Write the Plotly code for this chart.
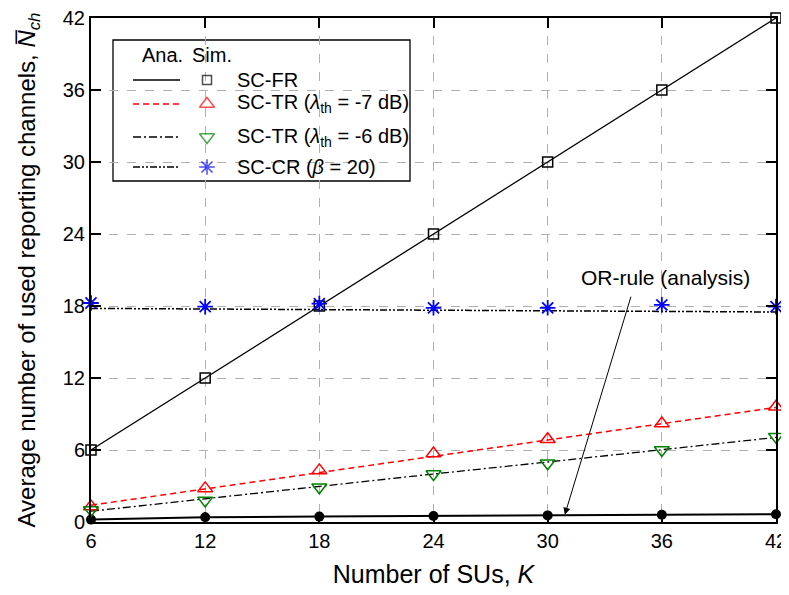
import plotly.graph_objects as go

K = [6, 12, 18, 24, 30, 36, 42]
fr_ana = [6, 12, 18, 24, 30, 36, 42]
fr_sim = [6, 12, 18, 24, 30, 36, 42]
tr7_ana = [1.4, 2.75, 4.15, 5.5, 6.85, 8.2, 9.55]
tr7_sim = [1.3, 2.8, 4.3, 5.7, 6.9, 8.2, 9.6]
tr6_ana = [0.9, 1.95, 2.95, 4.0, 5.0, 6.0, 7.05]
tr6_sim = [1.0, 1.8, 2.9, 4.0, 4.9, 6.0, 7.1]
cr_ana = [17.8, 17.75, 17.7, 17.65, 17.6, 17.55, 17.5]
cr_sim = [18.25, 17.95, 18.2, 17.85, 17.85, 18.1, 17.95]
or_ana = [0.2, 0.4, 0.45, 0.5, 0.55, 0.6, 0.65]

xticks = [6, 12, 18, 24, 30, 36, 42]
yticks = [0, 6, 12, 18, 24, 30, 36, 42]

legend_labels = ["SC-FR",
                 "SC-TR (<i>λ</i><sub>th</sub> = -7 dB)",
                 "SC-TR (<i>λ</i><sub>th</sub> = -6 dB)",
                 "SC-CR (<i>β</i> = 20)"]

FONT = "Liberation Sans, Arial, sans-serif"
fig = go.Figure()

DASH_TR7 = "6px,4px"
DASH_TR6 = "8px,3px,2px,3px"
DASH_CR = "7px,2px,2px,2px,2px,2px"

# analytical lines
fig.add_trace(go.Scatter(x=K, y=fr_ana, mode="lines", line=dict(color="black", width=1.3), showlegend=False))
fig.add_trace(go.Scatter(x=K, y=tr7_ana, mode="lines", line=dict(color="red", width=1.5, dash=DASH_TR7), showlegend=False))
fig.add_trace(go.Scatter(x=K, y=tr6_ana, mode="lines", line=dict(color="black", width=1.3, dash=DASH_TR6), showlegend=False))
fig.add_trace(go.Scatter(x=K, y=cr_ana, mode="lines", line=dict(color="black", width=1.5, dash=DASH_CR), showlegend=False))
fig.add_trace(go.Scatter(x=K, y=or_ana, mode="lines+markers", line=dict(color="black", width=2),
                         marker=dict(symbol="circle", size=10, color="black"), showlegend=False, cliponaxis=False))

# simulation markers
fig.add_trace(go.Scatter(x=K, y=fr_sim, mode="markers", cliponaxis=False,
                         marker=dict(symbol="square-open", size=10, color="black", line=dict(width=1.5)), showlegend=False))
fig.add_trace(go.Scatter(x=K, y=tr7_sim, mode="markers", cliponaxis=False,
                         marker=dict(symbol="triangle-up-open", size=13, color="red", line=dict(width=1.5)), showlegend=False))
fig.add_trace(go.Scatter(x=K, y=tr6_sim, mode="markers", cliponaxis=False,
                         marker=dict(symbol="triangle-down-open", size=13, color="green", line=dict(width=1.5)), showlegend=False))
fig.add_trace(go.Scatter(x=K, y=cr_sim, mode="markers", cliponaxis=False,
                         marker=dict(symbol="asterisk-open", size=13, color="blue", line=dict(width=1.8, color="blue")), showlegend=False))

# custom legend (positions in paper fractions of the plot area)
def px_x(p):
    return (p - 91) / 685
def px_y(p):
    return (522 - p) / 504

rows = [80, 104, 137, 167]
dashes = ["solid", DASH_TR7, DASH_TR6, DASH_CR]
lcolors = ["black", "red", "black", "black"]
fig.add_shape(type="rect", xref="paper", yref="paper", x0=px_x(113), x1=px_x(410), y0=px_y(181), y1=px_y(40),
              line=dict(color="black", width=1.3), fillcolor="white", layer="between")
for r, d, c in zip(rows, dashes, lcolors):
    fig.add_shape(type="line", xref="paper", yref="paper", x0=px_x(133), x1=px_x(180), y0=px_y(r), y1=px_y(r),
                  line=dict(color=c, width=1.5, dash=d), layer="above")
for r, lab in zip(rows, legend_labels):
    fig.add_annotation(xref="paper", yref="paper", x=px_x(235), y=px_y(r), text=lab, showarrow=False,
                       xanchor="left", yanchor="middle", font=dict(family=FONT, size=20, color="black"))
fig.add_annotation(xref="paper", yref="paper", x=px_x(162), y=px_y(55), text="Ana.", showarrow=False,
                   xanchor="center", yanchor="middle", font=dict(family=FONT, size=20, color="black"))
fig.add_annotation(xref="paper", yref="paper", x=px_x(212), y=px_y(55), text="Sim.", showarrow=False,
                   xanchor="center", yanchor="middle", font=dict(family=FONT, size=20, color="black"))

leg_syms = ["square-open", "triangle-up-open", "triangle-down-open", "asterisk-open"]
leg_cols = ["black", "red", "green", "blue"]
leg_sizes = [9, 13, 13, 13]
fig.add_trace(go.Scatter(x=[px_x(207)] * 4, y=[px_y(r) for r in rows], mode="markers",
                         xaxis="x2", yaxis="y2", showlegend=False,
                         marker=dict(symbol=leg_syms, color=leg_cols, size=leg_sizes,
                                     line=dict(width=1.5, color=leg_cols))))

# OR-rule annotation
fig.add_annotation(x=36.2, y=20.4, text="OR-rule (analysis)", showarrow=False,
                   xanchor="center", yanchor="middle",
                   font=dict(family=FONT, size=21, color="black"))
fig.add_annotation(x=30.9, y=0.6, ax=34.4, ay=18.9, xref="x", yref="y", axref="x", ayref="y",
                   text="", showarrow=True, arrowhead=2, arrowsize=1.4, arrowwidth=1, arrowcolor="black")

axis_common = dict(showline=True, linecolor="black", linewidth=2, mirror="ticks", ticks="inside",
                   ticklen=10, tickwidth=2, tickcolor="black", showgrid=True, gridcolor="#b0b0b0",
                   griddash="dash", gridwidth=1, zeroline=False, automargin=False,
                   ticklabeloverflow="allow",
                   tickfont=dict(family=FONT, size=20, color="black"))

fig.update_layout(
    width=789, height=595, plot_bgcolor="white", paper_bgcolor="white",
    margin=dict(l=83, r=21, t=10, b=81),
    xaxis=dict(range=[6, 42], tickvals=xticks, **axis_common,
               title=dict(text="Number of SUs, <i>K</i>", font=dict(family=FONT, size=25, color="black"), standoff=14)),
    yaxis=dict(range=[0, 42], tickvals=yticks, **axis_common,
               title=dict(text="Average number of used reporting channels, <i>N\u0305</i><sub><i>ch</i></sub>",
                          font=dict(family=FONT, size=24, color="black"), standoff=20)),
    xaxis2=dict(overlaying="x", range=[0, 1], visible=False),
    yaxis2=dict(overlaying="y", range=[0, 1], visible=False),
    showlegend=False,
)

fig.write_html("out.html")
